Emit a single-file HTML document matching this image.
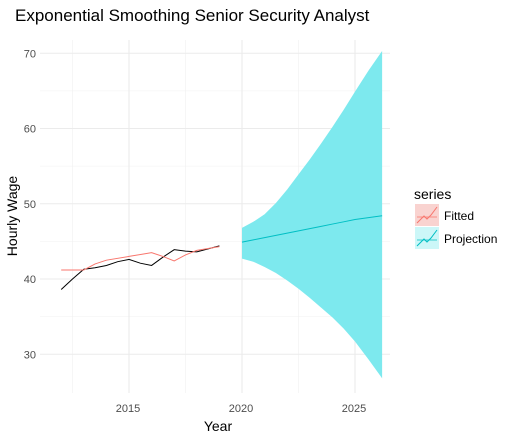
<!DOCTYPE html>
<html><head><meta charset="utf-8"><style>
body{margin:0;background:#fff;font-family:"Liberation Sans",sans-serif}
svg text{font-family:"Liberation Sans",sans-serif}
</style></head><body>
<svg id="c" width="516" height="442"></svg>
<script>
const actualYears=[2012,2012.5,2013,2013.5,2014,2014.5,2015,2015.5,2016,2016.5,2017,2017.5,2018,2018.5,2019];
const actualVals=[38.6,40,41.3,41.5,41.8,42.3,42.6,42.1,41.8,42.9,43.9,43.7,43.6,44,44.4];
const fittedYears=[2012,2013,2013.5,2014,2015,2016,2016.5,2017,2017.5,2018,2019];
const fittedVals=[41.2,41.2,42,42.5,43,43.5,43,42.4,43.2,43.8,44.3];
const projYears=[2020,2020.5,2021,2021.5,2022,2022.5,2023,2023.5,2024,2024.5,2025,2025.6,2026.2];
const projMean=[44.9,45.2,45.5,45.8,46.1,46.4,46.7,47,47.3,47.6,47.9,48.15,48.4];
const projUpper=[46.8,47.6,48.6,50.1,51.9,53.9,55.9,58,60.2,62.5,64.9,67.7,70.3];
const projLower=[42.7,42.3,41.6,40.8,39.8,38.7,37.5,36.2,34.9,33.4,31.7,29.3,26.8];
const xTicks=[2015,2020,2025];
const yTicks=[30,40,50,60,70];
const NS="http://www.w3.org/2000/svg";
const svg=document.getElementById('c');
const X=v=>242+(v-2020)*22.6;
const Y=v=>279-(v-40)*7.525;
function el(t,a,p){const e=document.createElementNS(NS,t);for(const k in a)e.setAttribute(k,a[k]);(p||svg).appendChild(e);return e;}
const L=40,R=390,T=40,B=393;
[2012.5,2017.5,2022.5].forEach(v=>{const g=el('line',{x1:X(v),x2:X(v),y1:T,y2:B,stroke:'#f0f0f0','stroke-width':0.6});

});
[35,45,55,65].forEach(v=>{const g=el('line',{x1:L,x2:R,y1:Y(v),y2:Y(v),stroke:'#f0f0f0','stroke-width':0.6});

});
xTicks.forEach(v=>{const g=el('line',{x1:X(v),x2:X(v),y1:T,y2:B,stroke:'#ebebeb','stroke-width':1.1});


const t=el('text',{x:X(v)-1,y:412,'text-anchor':'middle','font-size':11,fill:'#4d4d4d'});t.textContent=v;

});
yTicks.forEach(v=>{const g=el('line',{x1:L,x2:R,y1:Y(v),y2:Y(v),stroke:'#ebebeb','stroke-width':1.1});


const t=el('text',{x:36,y:Y(v)+4,'text-anchor':'end','font-size':11,fill:'#4d4d4d'});t.textContent=v;

});
let d='';projYears.forEach((y,i)=>d+=(i?'L':'M')+X(y)+','+Y(projUpper[i]));
for(let i=projYears.length-1;i>=0;i--)d+='L'+X(projYears[i])+','+Y(projLower[i]);
const band=el('path',{d:d+'Z',fill:'#7de9ee'});


function line(xs,ys,c,name){const p=el('polyline',{points:xs.map((x,i)=>X(x)+','+Y(ys[i])).join(' '),fill:'none',stroke:c,'stroke-width':1});

}
line(actualYears,actualVals,'#000','actual-line');
line(fittedYears,fittedVals,'#f8766d','fitted-line');
line(projYears,projMean,'#00bfc4','projection-line');
</script>
<div style="position:absolute;left:15px;top:6px;font-size:17px;color:#000;white-space:nowrap">Exponential Smoothing Senior Security Analyst</div>
<div style="position:absolute;left:0;top:418px;width:436px;text-align:center;font-size:14px">Year</div>
<div style="position:absolute;left:-38px;top:208px;width:100px;text-align:center;font-size:14px;white-space:nowrap;transform:rotate(-90deg)">Hourly Wage</div>
<div style="position:absolute;left:414px;top:186px;font-size:14px">series</div>
<svg style="position:absolute;left:415px;top:204px" width="100" height="48">
<g><rect x="0" y="0" width="24" height="22" fill="#f9d3d0"/><polyline points="2,19 9,12 12,15 16,11 22,3" fill="none" stroke="#f8766d"/><line x1="2" y1="13" x2="22" y2="13" stroke="#f8766d" stroke-width="0.8"/><text x="29" y="16" font-size="12">Fitted</text></g>
<g><rect x="0" y="23" width="24" height="22" fill="#ccf7f8"/><polyline points="2,42 9,35 12,38 16,34 22,26" fill="none" stroke="#00bfc4"/><line x1="2" y1="36" x2="22" y2="36" stroke="#00bfc4" stroke-width="0.8"/><text x="29" y="39" font-size="12">Projection</text></g>
</svg>
</body></html>
